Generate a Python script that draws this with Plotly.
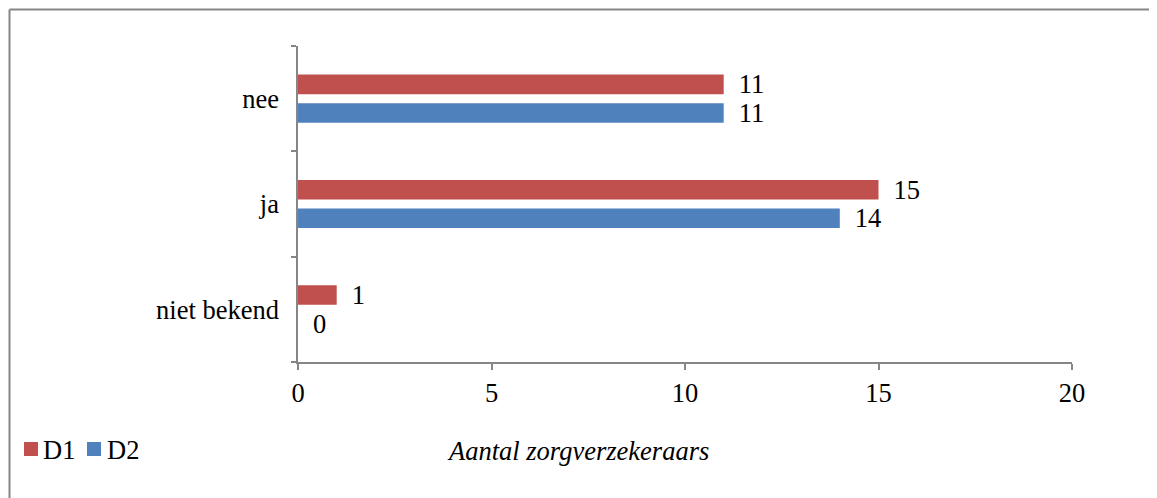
import plotly.graph_objects as go

categories = ["niet bekend", "ja", "nee"]
series_names = ["D1", "D2"]
series_colors = ["#C0504D", "#4F81BD"]
d1_values = [1, 15, 11]
d2_values = [0, 14, 11]
x_ticks = [0, 5, 10, 15, 20]

FONT = "Liberation Serif, Times New Roman, serif"
FS = 26.5
OFF = 8  # default page body margin
W, H = 1157 - OFF, 498 - OFF
L, R, T, B = 298 - OFF, 1157 - 1072, 46 - OFF, 498 - 362
pw, ph = W - L - R, H - T - B

def px_x(x):
    return (x - OFF - L) / pw

def px_y(y):
    return (H - B - (y - OFF)) / ph

LBL = "\u00a0\u2009%{x}"

fig = go.Figure()
# D2 first so that D1 is drawn above it within each category
for name, color, vals in [(series_names[1], series_colors[1], d2_values),
                          (series_names[0], series_colors[0], d1_values)]:
    fig.add_trace(go.Bar(
        y=categories, x=vals, name=name, orientation="h",
        marker=dict(color=color, line=dict(width=0)),
        texttemplate=LBL, textposition="outside", constraintext="none",
        textfont=dict(family=FONT, size=FS, color="#000000"),
        cliponaxis=False, showlegend=False,
    ))

# legend drawn as swatches + labels (Excel-like compact legend)
legend_sq_x = [24, 87]
legend_txt_x = [41, 105]
shapes = []
annotations = []
for i, name in enumerate(series_names):
    shapes.append(dict(
        type="rect", xref="paper", yref="paper",
        x0=px_x(legend_sq_x[i]), x1=px_x(legend_sq_x[i] + 14),
        y0=px_y(456), y1=px_y(442),
        fillcolor=series_colors[i], line=dict(width=0),
    ))
    annotations.append(dict(
        text=name, xref="paper", yref="paper",
        x=px_x(legend_txt_x[i]), y=px_y(450), xanchor="left", yanchor="middle",
        showarrow=False, font=dict(family=FONT, size=FS, color="#000000"),
    ))

annotations.append(dict(
    text="<i>Aantal zorgverzekeraars</i>", xref="paper", yref="paper",
    x=px_x(578), y=px_y(451), xanchor="center", yanchor="middle",
    showarrow=False, font=dict(family=FONT, size=FS, color="#000000"),
))

shapes += [
    dict(type="line", xref="paper", yref="paper",
         x0=px_x(9.5), x1=px_x(1175), y0=px_y(9.5), y1=px_y(9.5),
         line=dict(color="#868686", width=2)),
    dict(type="line", xref="paper", yref="paper",
         x0=px_x(9.5), x1=px_x(9.5), y0=px_y(9.5), y1=px_y(520),
         line=dict(color="#868686", width=2)),
]

fig.update_layout(
    width=W, height=H,
    margin=dict(l=L, r=R, t=T, b=B, autoexpand=False),
    paper_bgcolor="white", plot_bgcolor="white",
    barmode="group", bargap=0.457, bargroupgap=0.316,
    font=dict(family=FONT, size=FS, color="#000000"),
    showlegend=False,
    xaxis=dict(
        range=[0, 20], tickvals=x_ticks, ticktext=[str(t) for t in x_ticks],
        showgrid=False, zeroline=False, automargin=False,
        showline=True, linecolor="#868686", linewidth=1.5,
        ticks="outside", ticklen=6, tickcolor="#868686", tickwidth=1.5,
        tickfont=dict(family=FONT, size=FS, color="#000000"),
        ticklabelstandoff=0,
    ),
    yaxis=dict(
        type="category", categoryorder="array", categoryarray=categories,
        showgrid=False, zeroline=False, automargin=False,
        showline=True, linecolor="#868686", linewidth=1.5,
        ticks="outside", ticklen=5, tickcolor="#868686", tickwidth=1.5,
        tickson="boundaries",
        tickfont=dict(family=FONT, size=FS, color="#000000"),
        ticklabelstandoff=12,
    ),
    annotations=annotations,
    shapes=shapes,
)

fig.write_html("out.html")
